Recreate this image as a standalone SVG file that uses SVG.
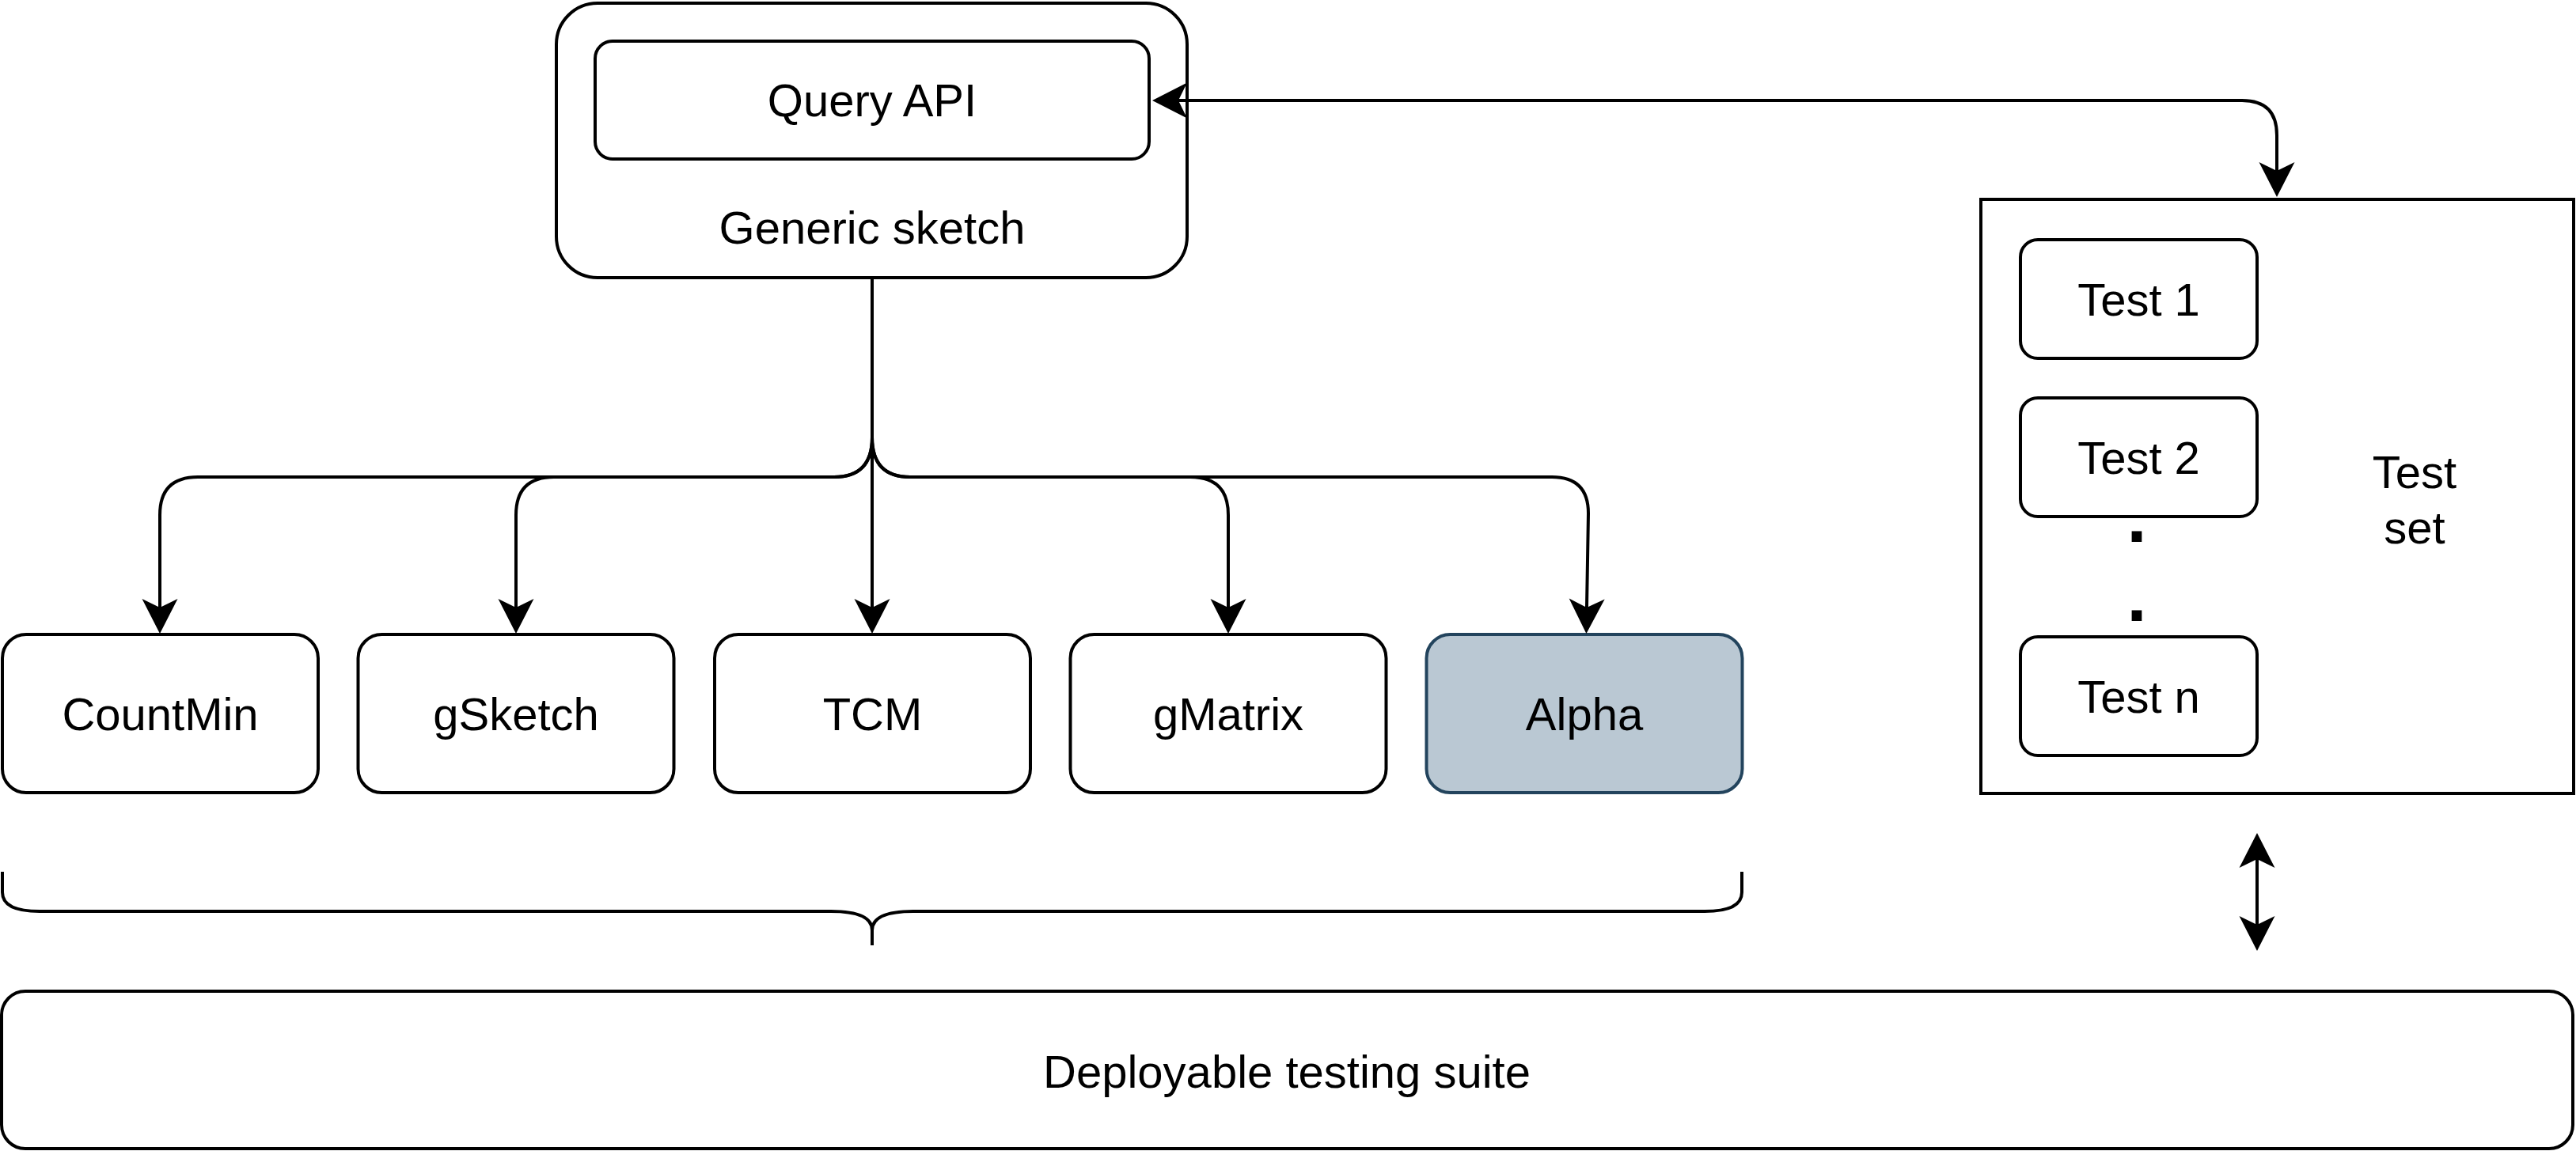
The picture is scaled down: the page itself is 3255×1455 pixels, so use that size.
<svg xmlns="http://www.w3.org/2000/svg" width="3255" height="1455" viewBox="0 0 3255 1455">
<style>
.box{fill:#ffffff;stroke:#000000;stroke-width:4}
.alpha{fill:#bac8d3;stroke:#23445d;stroke-width:4}
.lbl{font-family:"Liberation Sans",Arial,Helvetica,sans-serif;font-size:58px;fill:#000000;text-anchor:middle}
.dot{font-family:"Liberation Sans",Arial,Helvetica,sans-serif;font-size:90px;font-weight:bold;fill:#000000;text-anchor:middle}
.edge{fill:none;stroke:#000000;stroke-width:4}
</style>
<defs>
<marker id="arr" markerUnits="userSpaceOnUse" viewBox="-12 -24 48 48" markerWidth="48" markerHeight="48" refX="0" refY="0" orient="auto-start-reverse">
<path d="M33,0 L-11,-22.5 L0,0 L-11,22.5 Z" fill="#000000"/>
</marker>
</defs>
<rect width="3255" height="1455" fill="#ffffff"/>
<g id="generic-sketch">
<rect class="box" x="703" y="4" width="797" height="347" rx="52" ry="52"/>
<text class="lbl" x="1102" y="308">Generic sketch</text>
</g>
<g id="query-api">
<rect class="box" x="752" y="52" width="700" height="149" rx="22" ry="22"/>
<text class="lbl" x="1102" y="147">Query API</text>
</g>
<g id="countmin">
<rect class="box" x="3" y="802" width="399" height="200" rx="30" ry="30"/>
<text class="lbl" x="202.5" y="923">CountMin</text>
</g>
<g id="gsketch">
<rect class="box" x="452.5" y="802" width="399" height="200" rx="30" ry="30"/>
<text class="lbl" x="652" y="923">gSketch</text>
</g>
<g id="tcm">
<rect class="box" x="903" y="802" width="399" height="200" rx="30" ry="30"/>
<text class="lbl" x="1102.5" y="923">TCM</text>
</g>
<g id="gmatrix">
<rect class="box" x="1352.5" y="802" width="399" height="200" rx="30" ry="30"/>
<text class="lbl" x="1552" y="923">gMatrix</text>
</g>
<g id="alpha">
<rect class="alpha" x="1802.5" y="802" width="399" height="200" rx="30" ry="30"/>
<text class="lbl" x="2002" y="923">Alpha</text>
</g>
<g id="test-set">
<rect class="box" x="2503" y="252" width="749" height="751"/>
<text class="lbl" x="3051" y="617">Test</text>
<text class="lbl" x="3051" y="687">set</text>
</g>
<g id="test-1">
<rect class="box" x="2553" y="303" width="299" height="150" rx="22" ry="22"/>
<text class="lbl" x="2702.5" y="399">Test 1</text>
</g>
<g id="test-2">
<rect class="box" x="2553" y="503" width="299" height="150" rx="22" ry="22"/>
<text class="lbl" x="2702.5" y="599">Test 2</text>
</g>
<g id="dots">
<text class="dot" x="2700" y="685">.</text>
<text class="dot" x="2700" y="785">.</text>
</g>
<g id="test-n">
<rect class="box" x="2553" y="805" width="299" height="150" rx="22" ry="22"/>
<text class="lbl" x="2702.5" y="901">Test n</text>
</g>
<g id="deployable-suite">
<rect class="box" x="2" y="1253" width="3249" height="199" rx="30" ry="30"/>
<text class="lbl" x="1626" y="1375">Deployable testing suite</text>
</g>
<g id="brace">
<path class="edge" d="M3,1102 L3,1128 Q3,1152 50,1152 L1050,1152 Q1102,1152 1102,1176 L1102,1195 M1102,1176 Q1102,1152 1154,1152 L2154,1152 Q2201,1152 2201,1128 L2201,1102"/>
</g>
<g id="connectors">
<path class="edge" d="M1102,353 L1102,768" marker-end="url(#arr)"/>
<path class="edge" d="M1102,553 Q1102,603 1054,603 L250,603 Q202,603 202,651 L202,768" marker-end="url(#arr)"/>
<path class="edge" d="M1102,553 Q1102,603 1054,603 L700,603 Q652,603 652,651 L652,768" marker-end="url(#arr)"/>
<path class="edge" d="M1102,553 Q1102,603 1150,603 L1504,603 Q1552,603 1552,651 L1552,768" marker-end="url(#arr)"/>
<path class="edge" d="M1102,553 Q1102,603 1150,603 L1961,603 Q2007,603 2007,649 L2005,768" marker-end="url(#arr)"/>
<path class="edge" d="M1489,127 L2833,127 Q2877,127 2877,171 L2877,216" marker-start="url(#arr)" marker-end="url(#arr)"/>
<path class="edge" d="M2852,1086 L2852,1169" marker-start="url(#arr)" marker-end="url(#arr)"/>
</g>
</svg>
